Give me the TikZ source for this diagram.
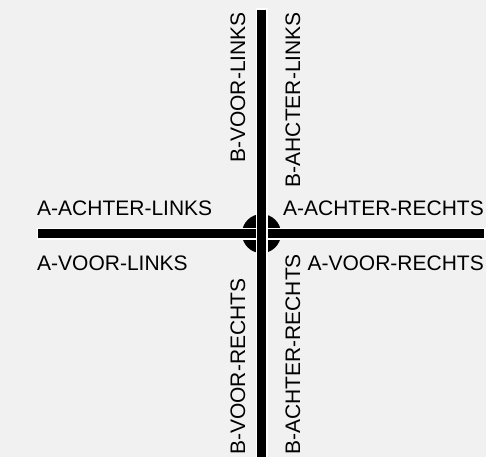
\documentclass[tikz,border=0pt]{standalone}
\usepackage{fontspec}
\setmainfont{Liberation Sans}
\definecolor{bg}{RGB}{242,241,241}
\tikzset{
  lbl/.style={inner sep=0pt, font=\fontsize{21bp}{25bp}\selectfont, text=black},
  vlbl/.style={lbl, rotate=90},
  barwhite/.style={line width=12bp, white},
  barblack/.style={line width=9bp, black},
}
\begin{document}
\begin{tikzpicture}[x=1bp,y=-1bp]
\useasboundingbox (0,0) rectangle (486,457);
\fill[bg] (0,0) rectangle (486,457);
% hub
\coordinate (c) at (261.5,233.6);
\fill[black] (c) circle[radius=19.5];
% line ends
\coordinate (hl) at (38.3,233.6);
\coordinate (hr) at (484,233.6);
\coordinate (vt) at (261.5,10);
\coordinate (vb) at (261.5,457);
\coordinate (hlw) at (36.8,233.6);
\coordinate (hrw) at (485.5,233.6);
\coordinate (vtw) at (261.5,8.5);
% horizontal bar
\draw[barwhite] (hlw) -- (hrw);
\draw[barblack] (hl) -- (hr);
% vertical bar
\draw[barwhite] (vtw) -- (vb);
\draw[barblack] (vt) -- (vb);
% labels
\node[lbl, anchor=base west] (al) at (37,216) {A-ACHTER-LINKS};
\node[lbl, anchor=base west] (vl) at (37,270) {A-VOOR-LINKS};
\node[lbl, anchor=base east] (ar) at (484,216) {A-ACHTER-RECHTS};
\node[lbl, anchor=base east] (vr) at (484,270) {A-VOOR-RECHTS};
\node[vlbl, anchor=base east] (bvl) at (245,12) {B-VOOR-LINKS};
\node[vlbl, anchor=base east] (bal) at (300,12) {B-AHCTER-LINKS};
\node[vlbl, anchor=base west] (bvr) at (245,455) {B-VOOR-RECHTS};
\node[vlbl, anchor=base west] (bar) at (300,455) {B-ACHTER-RECHTS};
\end{tikzpicture}
\end{document}
